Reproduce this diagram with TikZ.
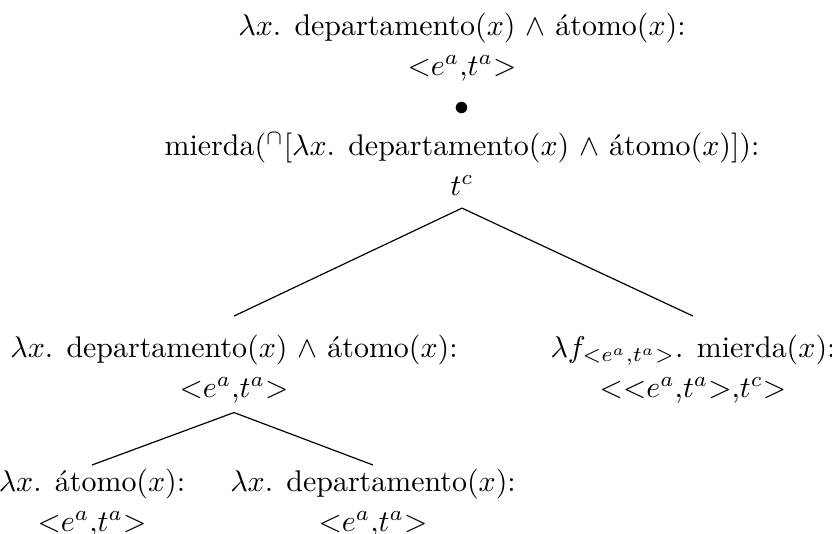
\documentclass[tikz,border=0pt]{standalone}
\usepackage{fontspec}

\tikzset{every picture/.style={line width=0.4pt}}
\tikzset{lbl/.style={align=center, inner xsep=0pt, inner ysep=0pt, anchor=north}}

\begin{document}
\begin{tikzpicture}[x=0.334pt,y=0.334pt,yscale=-1,xscale=1]
\useasboundingbox (0,0) rectangle (832,533);

% Text Node
\node [lbl] (root) at (462,12) {$\lambda x$. departamento($x$) $\wedge$ átomo($x$):\\[1.4pt]
  $<$$e^a$,$t^a$$>$\\[1.4pt]
  $\bullet$\\[1.4pt]
  mierda($^\cap$[$\lambda x$. departamento($x$) $\wedge$ átomo($x$)]):\\[1.4pt]
  $t^c$};
% Text Node
\node [lbl] (conj) at (234,334) {$\lambda x$. departamento($x$) $\wedge$ átomo($x$):\\[1.4pt]
  $<$$e^a$,$t^a$$>$};
% Text Node
\node [lbl] (pred) at (693,334) {$\lambda f_{<e^a,t^a>}$. mierda($x$):\\[1.4pt]
  $<$$<$$e^a$,$t^a$$>$,$t^c$$>$};
% Text Node
\node [lbl] (atom) at (92,468) {$\lambda x$. átomo($x$):\\[1.4pt]
  $<$$e^a$,$t^a$$>$};
% Text Node
\node [lbl] (dept) at (373,468) {$\lambda x$. departamento($x$):\\[1.4pt]
  $<$$e^a$,$t^a$$>$};

% Connection
\draw ([yshift=4pt]root.south) -- ([yshift=-6pt]conj.north);
% Connection
\draw ([yshift=4pt]root.south) -- ([yshift=-6pt]pred.north);
% Connection
\draw ([yshift=3pt]conj.south) -- ([yshift=-1pt]atom.north);
% Connection
\draw ([yshift=3pt]conj.south) -- ([yshift=-1pt]dept.north);

\end{tikzpicture}
\end{document}
